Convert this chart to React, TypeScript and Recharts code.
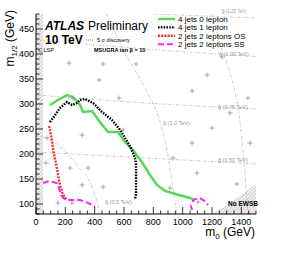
import { ComposedChart, Line, Scatter, XAxis, YAxis, ReferenceArea, Area } from "recharts";

// 5 sigma discovery reach, (m0, m1/2) in GeV
const jets4Lep0 = [
  { m0: 95, m12: 298 }, { m0: 150, m12: 308 }, { m0: 211, m12: 318 }, { m0: 252, m12: 314 },
  { m0: 300, m12: 298 }, { m0: 320, m12: 284 }, { m0: 382, m12: 286 }, { m0: 436, m12: 264 },
  { m0: 491, m12: 244 }, { m0: 559, m12: 244 }, { m0: 600, m12: 226 }, { m0: 661, m12: 208 },
  { m0: 722, m12: 184 }, { m0: 777, m12: 158 }, { m0: 825, m12: 138 }, { m0: 880, m12: 126 },
  { m0: 950, m12: 120 }, { m0: 1050, m12: 112 }, { m0: 1084, m12: 108 },
];
const jets4Lep1 = [
  { m0: 95, m12: 264 }, { m0: 130, m12: 278 }, { m0: 164, m12: 292 }, { m0: 211, m12: 304 },
  { m0: 245, m12: 298 }, { m0: 280, m12: 302 }, { m0: 300, m12: 308 }, { m0: 334, m12: 310 },
  { m0: 389, m12: 302 }, { m0: 450, m12: 284 }, { m0: 518, m12: 268 }, { m0: 573, m12: 248 },
  { m0: 620, m12: 226 }, { m0: 650, m12: 210 }, { m0: 675, m12: 192 }, { m0: 682, m12: 180 },
  { m0: 682, m12: 150 }, { m0: 682, m12: 120 }, { m0: 675, m12: 110 },
];
const jets2LepOS = [
  { m0: 89, m12: 256 }, { m0: 95, m12: 248 }, { m0: 109, m12: 226 }, { m0: 120, m12: 204 },
  { m0: 135, m12: 182 }, { m0: 145, m12: 168 }, { m0: 155, m12: 150 }, { m0: 168, m12: 134 },
  { m0: 180, m12: 122 }, { m0: 195, m12: 114 }, { m0: 210, m12: 108 },
];
const jets2LepSS = [
  { m0: 48, m12: 142 }, { m0: 80, m12: 145 }, { m0: 116, m12: 144 }, { m0: 143, m12: 142 },
  { m0: 155, m12: 134 }, { m0: 164, m12: 124 }, { m0: 180, m12: 114 }, { m0: 198, m12: 110 },
  { m0: 232, m12: 108 }, { m0: 300, m12: 108 }, { m0: 355, m12: 102 }, { m0: 380, m12: 98 },
  { m0: 402, m12: 94 },
];
const jets2LepSSIsland = [
  { m0: 1064, m12: 88 }, { m0: 1052, m12: 98 }, { m0: 1070, m12: 106 }, { m0: 1090, m12: 110 },
  { m0: 1118, m12: 111 }, { m0: 1145, m12: 107 }, { m0: 1173, m12: 98 },
];

// iso-mass contours
const gluino1250 = [{ m0: 800, m12: 480 }, { m0: 1500, m12: 472 }];
const gluino1000 = [{ m0: 0, m12: 428 }, { m0: 750, m12: 410 }, { m0: 1500, m12: 395 }];
const gluino750 = [{ m0: 0, m12: 318 }, { m0: 750, m12: 302 }, { m0: 1500, m12: 290 }];
const gluino500 = [{ m0: 0, m12: 204 }, { m0: 750, m12: 192 }, { m0: 1500, m12: 180 }];
const squark500 = [
  { m0: 0, m12: 238 }, { m0: 100, m12: 228 }, { m0: 211, m12: 202 }, { m0: 300, m12: 170 },
  { m0: 368, m12: 144 }, { m0: 410, m12: 110 }, { m0: 436, m12: 80 },
];
const squark1000 = [
  { m0: 480, m12: 480 }, { m0: 614, m12: 398 }, { m0: 750, m12: 328 }, { m0: 850, m12: 260 },
  { m0: 893, m12: 208 }, { m0: 930, m12: 140 }, { m0: 960, m12: 80 },
];
const squark1500 = [
  { m0: 1200, m12: 480 }, { m0: 1268, m12: 408 }, { m0: 1302, m12: 382 }, { m0: 1411, m12: 208 },
  { m0: 1445, m12: 80 },
];

// simulated grid points
const gridPoints = [
  { m0: 225, m12: 382 }, { m0: 457, m12: 380 }, { m0: 682, m12: 380 }, { m0: 430, m12: 348 },
  { m0: 566, m12: 312 }, { m0: 252, m12: 312 }, { m0: 1166, m12: 358 }, { m0: 1064, m12: 326 },
  { m0: 1268, m12: 394 }, { m0: 1445, m12: 312 }, { m0: 1323, m12: 282 }, { m0: 1200, m12: 252 },
  { m0: 1064, m12: 222 }, { m0: 1459, m12: 222 }, { m0: 934, m12: 192 }, { m0: 1098, m12: 162 },
  { m0: 1370, m12: 140 }, { m0: 914, m12: 132 }, { m0: 1105, m12: 104 }, { m0: 314, m12: 238 },
  { m0: 75, m12: 232 }, { m0: 232, m12: 172 }, { m0: 355, m12: 172 }, { m0: 68, m12: 182 },
  { m0: 457, m12: 134 }, { m0: 314, m12: 138 }, { m0: 150, m12: 102 }, { m0: 245, m12: 102 },
  { m0: 593, m12: 248 },
];

const noEwsb = [{ m0: 1200, m12: 80 }, { m0: 1350, m12: 108 }, { m0: 1500, m12: 140 }];

const xMajor = [0, 200, 400, 600, 800, 1000, 1200, 1400];
const yMajor = [100, 150, 200, 250, 300, 350, 400, 450];
const xTicks = Array.from({ length: 31 }, (_, i) => i * 50);
const yTicks = Array.from({ length: 41 }, (_, i) => 80 + i * 10);

const series = [
  { name: "4 jets 0 lepton", data: jets4Lep0, color: "#55d955", dash: undefined, width: 2.4 },
  { name: "4 jets 1 lepton", data: jets4Lep1, color: "#000000", dash: "1.6 1.2", width: 2.4 },
  { name: "2 jets 2 leptons OS", data: jets2LepOS, color: "#ff2a2a", dash: "2 1.2", width: 2.4 },
  { name: "2 jets 2 leptons SS", data: jets2LepSS, color: "#ff22ff", dash: "6 3", width: 2 },
];

const contours = [gluino1250, gluino1000, gluino750, gluino500, squark500, squark1000, squark1500];

const font = "Liberation Sans, Arial, sans-serif";

const BottomTick = (p: any) => {
  const v = p.payload.value;
  const major = xMajor.includes(v);
  return (
    <g>
      <line x1={p.x} x2={p.x} y1={p.y} y2={p.y - (major ? 7 : 3.5)} stroke="#000" strokeWidth={0.8} />
      {major && (
        <text x={p.x} y={p.y + 10.5} textAnchor="middle" fontSize={9} fontFamily={font} fill="#000">
          {v}
        </text>
      )}
    </g>
  );
};
const TopTick = (p: any) => {
  const major = xMajor.includes(p.payload.value);
  return <line x1={p.x} x2={p.x} y1={p.y} y2={p.y + (major ? 7 : 3.5)} stroke="#000" strokeWidth={0.8} />;
};
const LeftTick = (p: any) => {
  const v = p.payload.value;
  const major = v % 50 === 0;
  return (
    <g>
      <line x1={p.x} x2={p.x + (major ? 7 : 3.5)} y1={p.y} y2={p.y} stroke="#000" strokeWidth={0.8} />
      {yMajor.includes(v) && (
        <text x={p.x - 2} y={p.y + 3.2} textAnchor="end" fontSize={9} fontFamily={font} fill="#000">
          {v}
        </text>
      )}
    </g>
  );
};
const RightTick = (p: any) => {
  const major = p.payload.value % 50 === 0;
  return <line x1={p.x} x2={p.x - (major ? 7 : 3.5)} y1={p.y} y2={p.y} stroke="#000" strokeWidth={0.8} />;
};

const Plus = (p: any) => (
  <g stroke="#8c8c8c" strokeWidth={0.7}>
    <line x1={p.cx - 2.5} x2={p.cx + 2.5} y1={p.cy} y2={p.cy} />
    <line x1={p.cx} x2={p.cx} y1={p.cy - 2.5} y2={p.cy + 2.5} />
  </g>
);

const small = { fontSize: 5.5, fontFamily: font, fill: "#999" };

export default function App() {
  return (
    <div style={{ position: "absolute", left: 0, top: 0, width: 300, height: 255, background: "#fff" }}>
      <ComposedChart
        width={300}
        height={255}
        margin={{ top: 14, right: 44, bottom: 0, left: 0 }}
        style={{ fontFamily: font }}
      >
        <XAxis
          dataKey="m0"
          type="number"
          domain={[0, 1500]}
          allowDataOverflow
          ticks={xTicks}
          interval={0}
          tickSize={0}
          tickMargin={0}
          tickLine={false}
          tick={<BottomTick />}
          height={41}
          axisLine={{ stroke: "#000", strokeWidth: 1 }}
        />
        <XAxis
          xAxisId="top"
          orientation="top"
          type="number"
          domain={[0, 1500]}
          allowDataOverflow
          ticks={xTicks}
          interval={0}
          tickSize={0}
          tickMargin={0}
          tickLine={false}
          tick={<TopTick />}
          height={0}
          axisLine={{ stroke: "#000", strokeWidth: 1 }}
        />
        <YAxis
          dataKey="m12"
          type="number"
          domain={[80, 480]}
          allowDataOverflow
          ticks={yTicks}
          interval={0}
          tickSize={0}
          tickMargin={0}
          tickLine={false}
          tick={<LeftTick />}
          width={36}
          axisLine={{ stroke: "#000", strokeWidth: 1 }}
        />
        <YAxis
          yAxisId="right"
          orientation="right"
          type="number"
          domain={[80, 480]}
          allowDataOverflow
          ticks={yTicks}
          interval={0}
          tickSize={0}
          tickMargin={0}
          tickLine={false}
          tick={<RightTick />}
          width={0}
          axisLine={{ stroke: "#e35d5d", strokeWidth: 1.6 }}
        />

        <ReferenceArea x1={0} x2={48} y1={80} y2={480} fill="url(#hatch)" fillOpacity={1} stroke="none" />
        <Area
          data={noEwsb}
          dataKey="m12"
          type="monotone"
          fill="url(#hatch)"
          fillOpacity={1}
          stroke="none"
          isAnimationActive={false}
          legendType="none"
        />

        {contours.map((c, i) => (
          <Line
            key={"c" + i}
            data={c}
            dataKey="m12"
            type="monotone"
            stroke="#b3b3b3"
            strokeWidth={0.7}
            strokeDasharray="3 1.5 1 1.5"
            dot={false}
            isAnimationActive={false}
            legendType="none"
          />
        ))}

        <Scatter data={gridPoints} dataKey="m12" shape={<Plus />} isAnimationActive={false} legendType="none" />

        {series.map((s) => (
          <Line
            key={s.name}
            name={s.name}
            data={s.data}
            dataKey="m12"
            type="linear"
            stroke={s.color}
            strokeWidth={s.width}
            strokeDasharray={s.dash}
            dot={false}
            isAnimationActive={false}
          />
        ))}
        <Line
          data={jets2LepSSIsland}
          dataKey="m12"
          type="monotone"
          stroke="#ff22ff"
          strokeWidth={2}
          strokeDasharray="6 3"
          dot={false}
          isAnimationActive={false}
          legendType="none"
        />
      </ComposedChart>

      <svg width={300} height={255} style={{ position: "absolute", left: 0, top: 0, pointerEvents: "none" }}>
        <defs>
          <pattern id="hatch" width="2.5" height="2.5" patternUnits="userSpaceOnUse" patternTransform="rotate(45)">
            <rect width="2.5" height="2.5" fill="#f2f2f2" />
            <line x1="0" y1="0" x2="0" y2="2.5" stroke="#9a9a9a" strokeWidth="0.8" />
          </pattern>
        </defs>

        <text x={45} y={30} fontSize={12} fontFamily={font} fontWeight="bold" fontStyle="italic">ATLAS</text>
        <text x={88} y={30} fontSize={12} fontFamily={font}>Preliminary</text>
        <text x={45} y={44} fontSize={12} fontFamily={font} fontWeight="bold">10 TeV</text>
        <line x1={86} x2={94} y1={40} y2={40} stroke="#555" strokeWidth={0.8} strokeDasharray="1 1" />
        <text x={97} y={42} fontSize={5.5} fontFamily={font}>5 σ discovery</text>
        <text x={38} y={52} fontSize={5.5} fontFamily={font}>τ̃₁ LSP</text>
        <text x={94} y={52} fontSize={5.5} fontFamily={font} fontWeight="bold">MSUGRA tan β = 10</text>
        <text x={228} y={206} fontSize={6.5} fontFamily={font} fontWeight="bold">No EWSB</text>

        <text x={222} y={12.5} fontSize={4.5} fontFamily={font} fill="#999">g̃ (1.25 TeV)</text>
        <text x={219} y={56} {...small}>g̃ (1.00 TeV)</text>
        <text x={218} y={109} {...small}>g̃ (0.75 TeV)</text>
        <text x={163} y={125} {...small}>q̃ (1.0 TeV)</text>
        <text x={218} y={162} {...small}>g̃ (0.50 TeV)</text>
        <text x={105} y={204} {...small}>q̃ (0.5 TeV)</text>

        {series.map((s, i) => (
          <g key={s.name}>
            <line
              x1={158}
              x2={175}
              y1={19 + i * 8.4}
              y2={19 + i * 8.4}
              stroke={s.color}
              strokeWidth={s.width}
              strokeDasharray={s.dash}
            />
            <text x={178} y={21.8 + i * 8.4} fontSize={8} fontFamily={font}>{s.name}</text>
          </g>
        ))}

        <text x={255} y={236} textAnchor="end" fontSize={12} fontFamily={font}>
          m<tspan fontSize={8} dy={3}>0</tspan>
          <tspan dy={-3}> (GeV)</tspan>
        </text>
        <text transform="translate(14,10) rotate(-90)" textAnchor="end" fontSize={12} fontFamily={font}>
          m<tspan fontSize={8} dy={3}>1/2</tspan>
          <tspan dy={-3}> (GeV)</tspan>
        </text>
      </svg>
    </div>
  );
}
